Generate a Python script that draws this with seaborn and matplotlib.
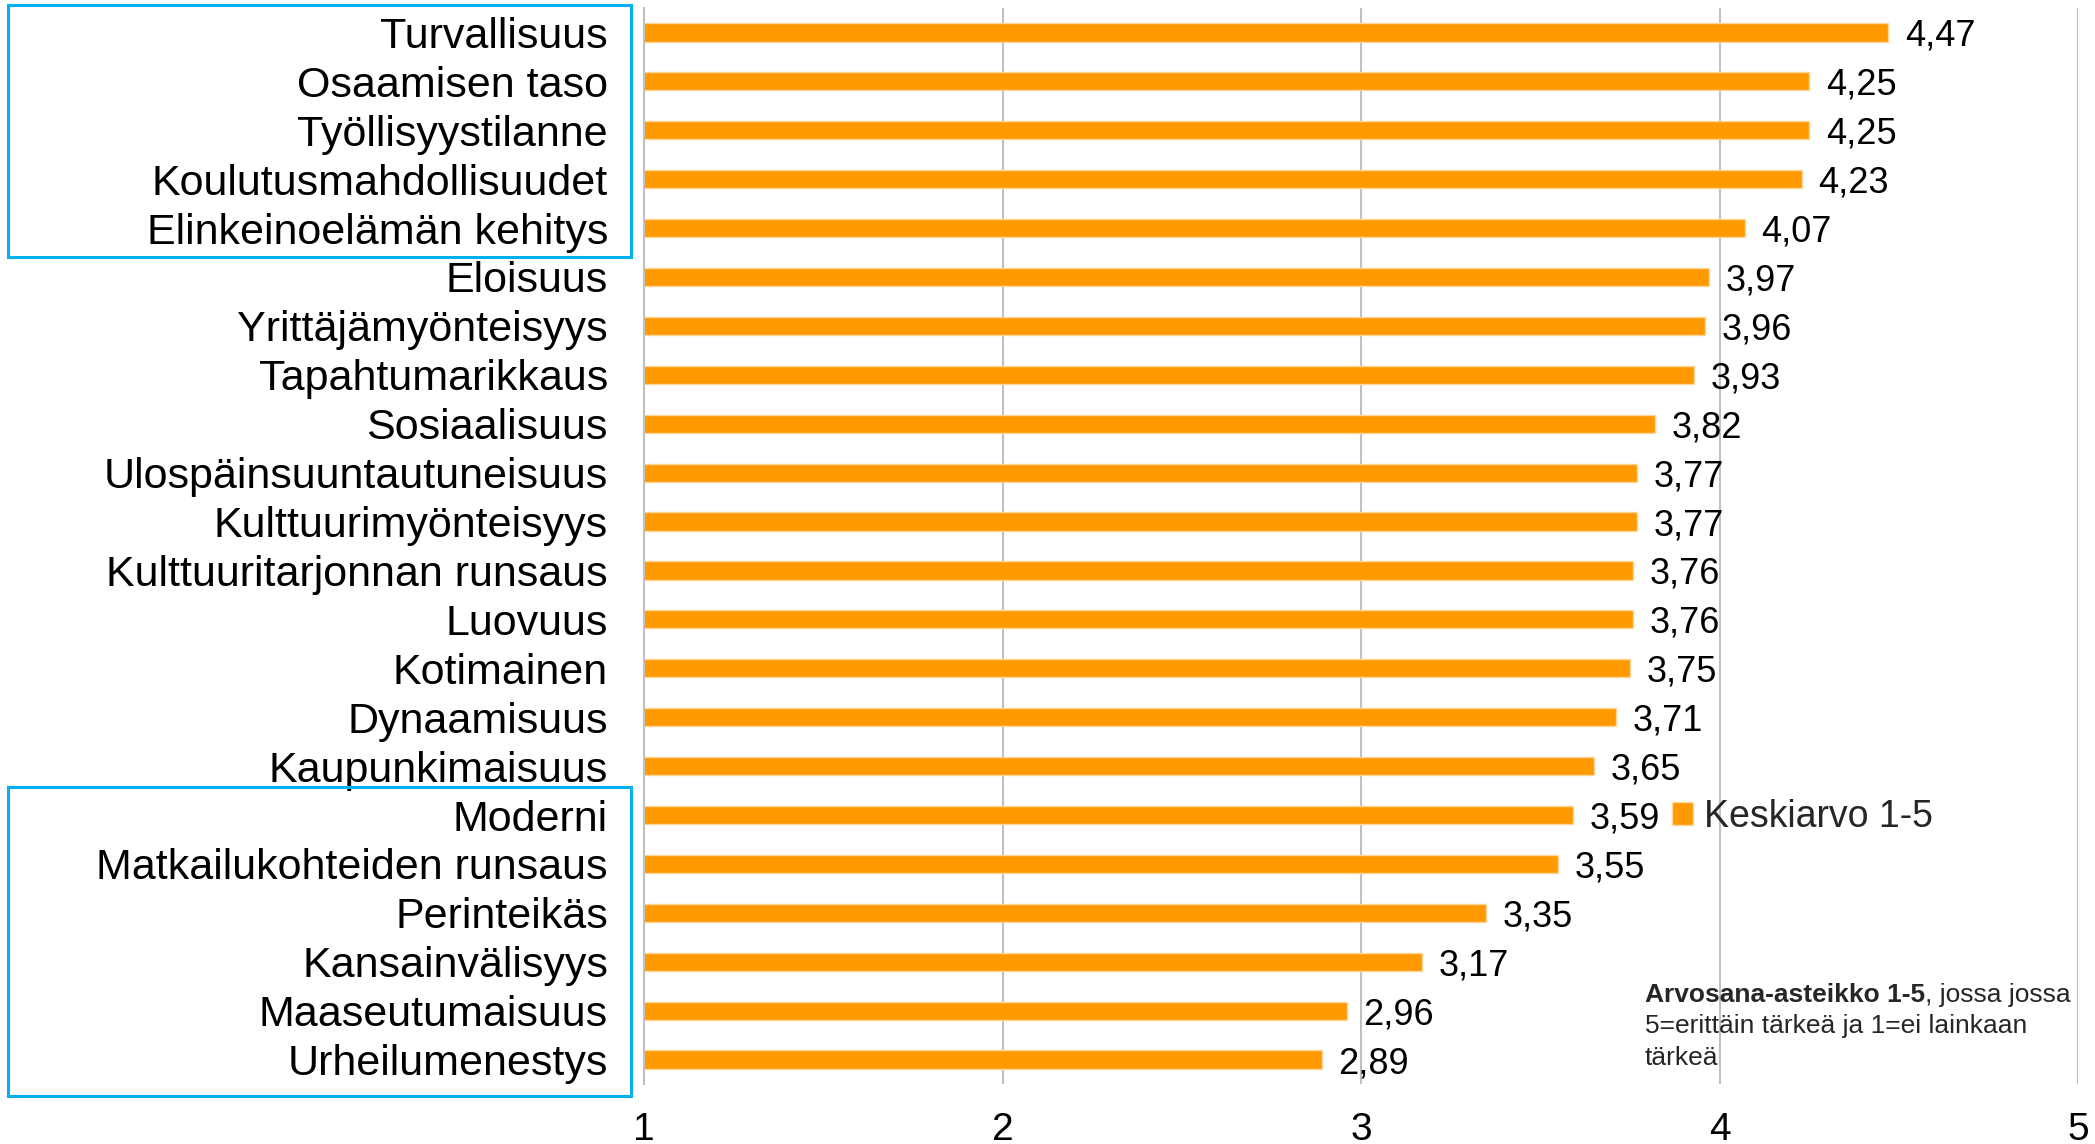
import matplotlib
matplotlib.use("Agg")
import matplotlib.pyplot as plt
import seaborn as sns
import pandas as pd
from matplotlib.patches import Rectangle

# Values (top to bottom)
categories = [
    "Turvallisuus",
    "Osaamisen taso",
    "Työllisyystilanne",
    "Koulutusmahdollisuudet",
    "Elinkeinoelämän kehitys",
    "Eloisuus",
    "Yrittäjämyönteisyys",
    "Tapahtumarikkaus",
    "Sosiaalisuus",
    "Ulospäinsuuntautuneisuus",
    "Kulttuurimyönteisyys",
    "Kulttuuritarjonnan runsaus",
    "Luovuus",
    "Kotimainen",
    "Dynaamisuus",
    "Kaupunkimaisuus",
    "Moderni",
    "Matkailukohteiden runsaus",
    "Perinteikäs",
    "Kansainvälisyys",
    "Maaseutumaisuus",
    "Urheilumenestys",
]
means = [4.47, 4.25, 4.25, 4.23, 4.07, 3.97, 3.96, 3.93, 3.82, 3.77, 3.77,
         3.76, 3.76, 3.75, 3.71, 3.65, 3.59, 3.55, 3.35, 3.17, 2.96, 2.89]
xticks = [1, 2, 3, 4, 5]
series_name = "Keskiarvo 1-5"

BAR = "#FF9900"
GRID = "#C0C0C0"
BOX = "#00B0F0"
W, H = 2095, 1144

sns.set_theme(style="white")
plt.rcParams["font.family"] = ["Liberation Sans", "DejaVu Sans"]

df = pd.DataFrame({"kategoria": categories, "arvo": means})

fig = plt.figure(figsize=(W / 100, H / 100), dpi=100)
ax = fig.add_axes([644 / W, 1 - 1084 / H, (2078 - 644) / W, (1084 - 8) / H])

sns.barplot(data=df, y="kategoria", x="arvo", orient="h", color=BAR,
            width=0.37, edgecolor="#FFD699", linewidth=1, saturation=1,
            label=series_name, ax=ax)

ax.set_xlim(1, 5)
ax.set_xticks(xticks)
ax.set_xticklabels([str(t) for t in xticks])
ax.set_xlabel("")
ax.set_ylabel("")
ax.grid(False)
for t in xticks[1:]:
    ax.axvline(t, color=GRID, lw=1.5, zorder=0)

for s in ["top", "right", "bottom"]:
    ax.spines[s].set_visible(False)
ax.spines["left"].set_color(GRID)
ax.spines["left"].set_linewidth(1.5)

ax.tick_params(axis="y", length=0, pad=26, labelsize=31, labelcolor="black")
ax.tick_params(axis="x", length=0, pad=20, labelsize=28, labelcolor="black")

labels = [f"{v:.2f}".replace(".", ",") for v in means]
anns = ax.bar_label(ax.containers[0], labels=labels, padding=12,
                    fontsize=26, color="black")
for a in anns:
    a.set_va("center_baseline")

ax.legend(loc="center left", bbox_to_anchor=(1672 / W, 1 - 817 / H),
          bbox_transform=fig.transFigure, frameon=False, fontsize=27,
          handlelength=0.55, handleheight=0.55, handletextpad=0.3,
          borderpad=0, borderaxespad=0)

# blue highlight boxes around the label groups
for y0, y1 in [(5, 257), (787, 1096)]:
    fig.patches.append(Rectangle((8 / W, 1 - y1 / H), (631 - 8) / W,
                                 (y1 - y0) / H, transform=fig.transFigure,
                                 fill=False, edgecolor=BOX, lw=2.2))

# scale note
note_x = 1645 / W
t1 = fig.text(note_x, 1 - 1002 / H, "Arvosana-asteikko 1-5", fontsize=19,
              fontweight="bold", va="baseline")
ax.annotate(", jossa jossa", xy=(1, 0), xycoords=t1, fontsize=19,
            va="bottom", ha="left", annotation_clip=False)
fig.text(note_x, 1 - 1033 / H, "5=erittäin tärkeä ja 1=ei lainkaan",
         fontsize=19, va="baseline")
fig.text(note_x, 1 - 1065 / H, "tärkeä", fontsize=19, va="baseline")

fig.savefig("out.png", dpi=100)
